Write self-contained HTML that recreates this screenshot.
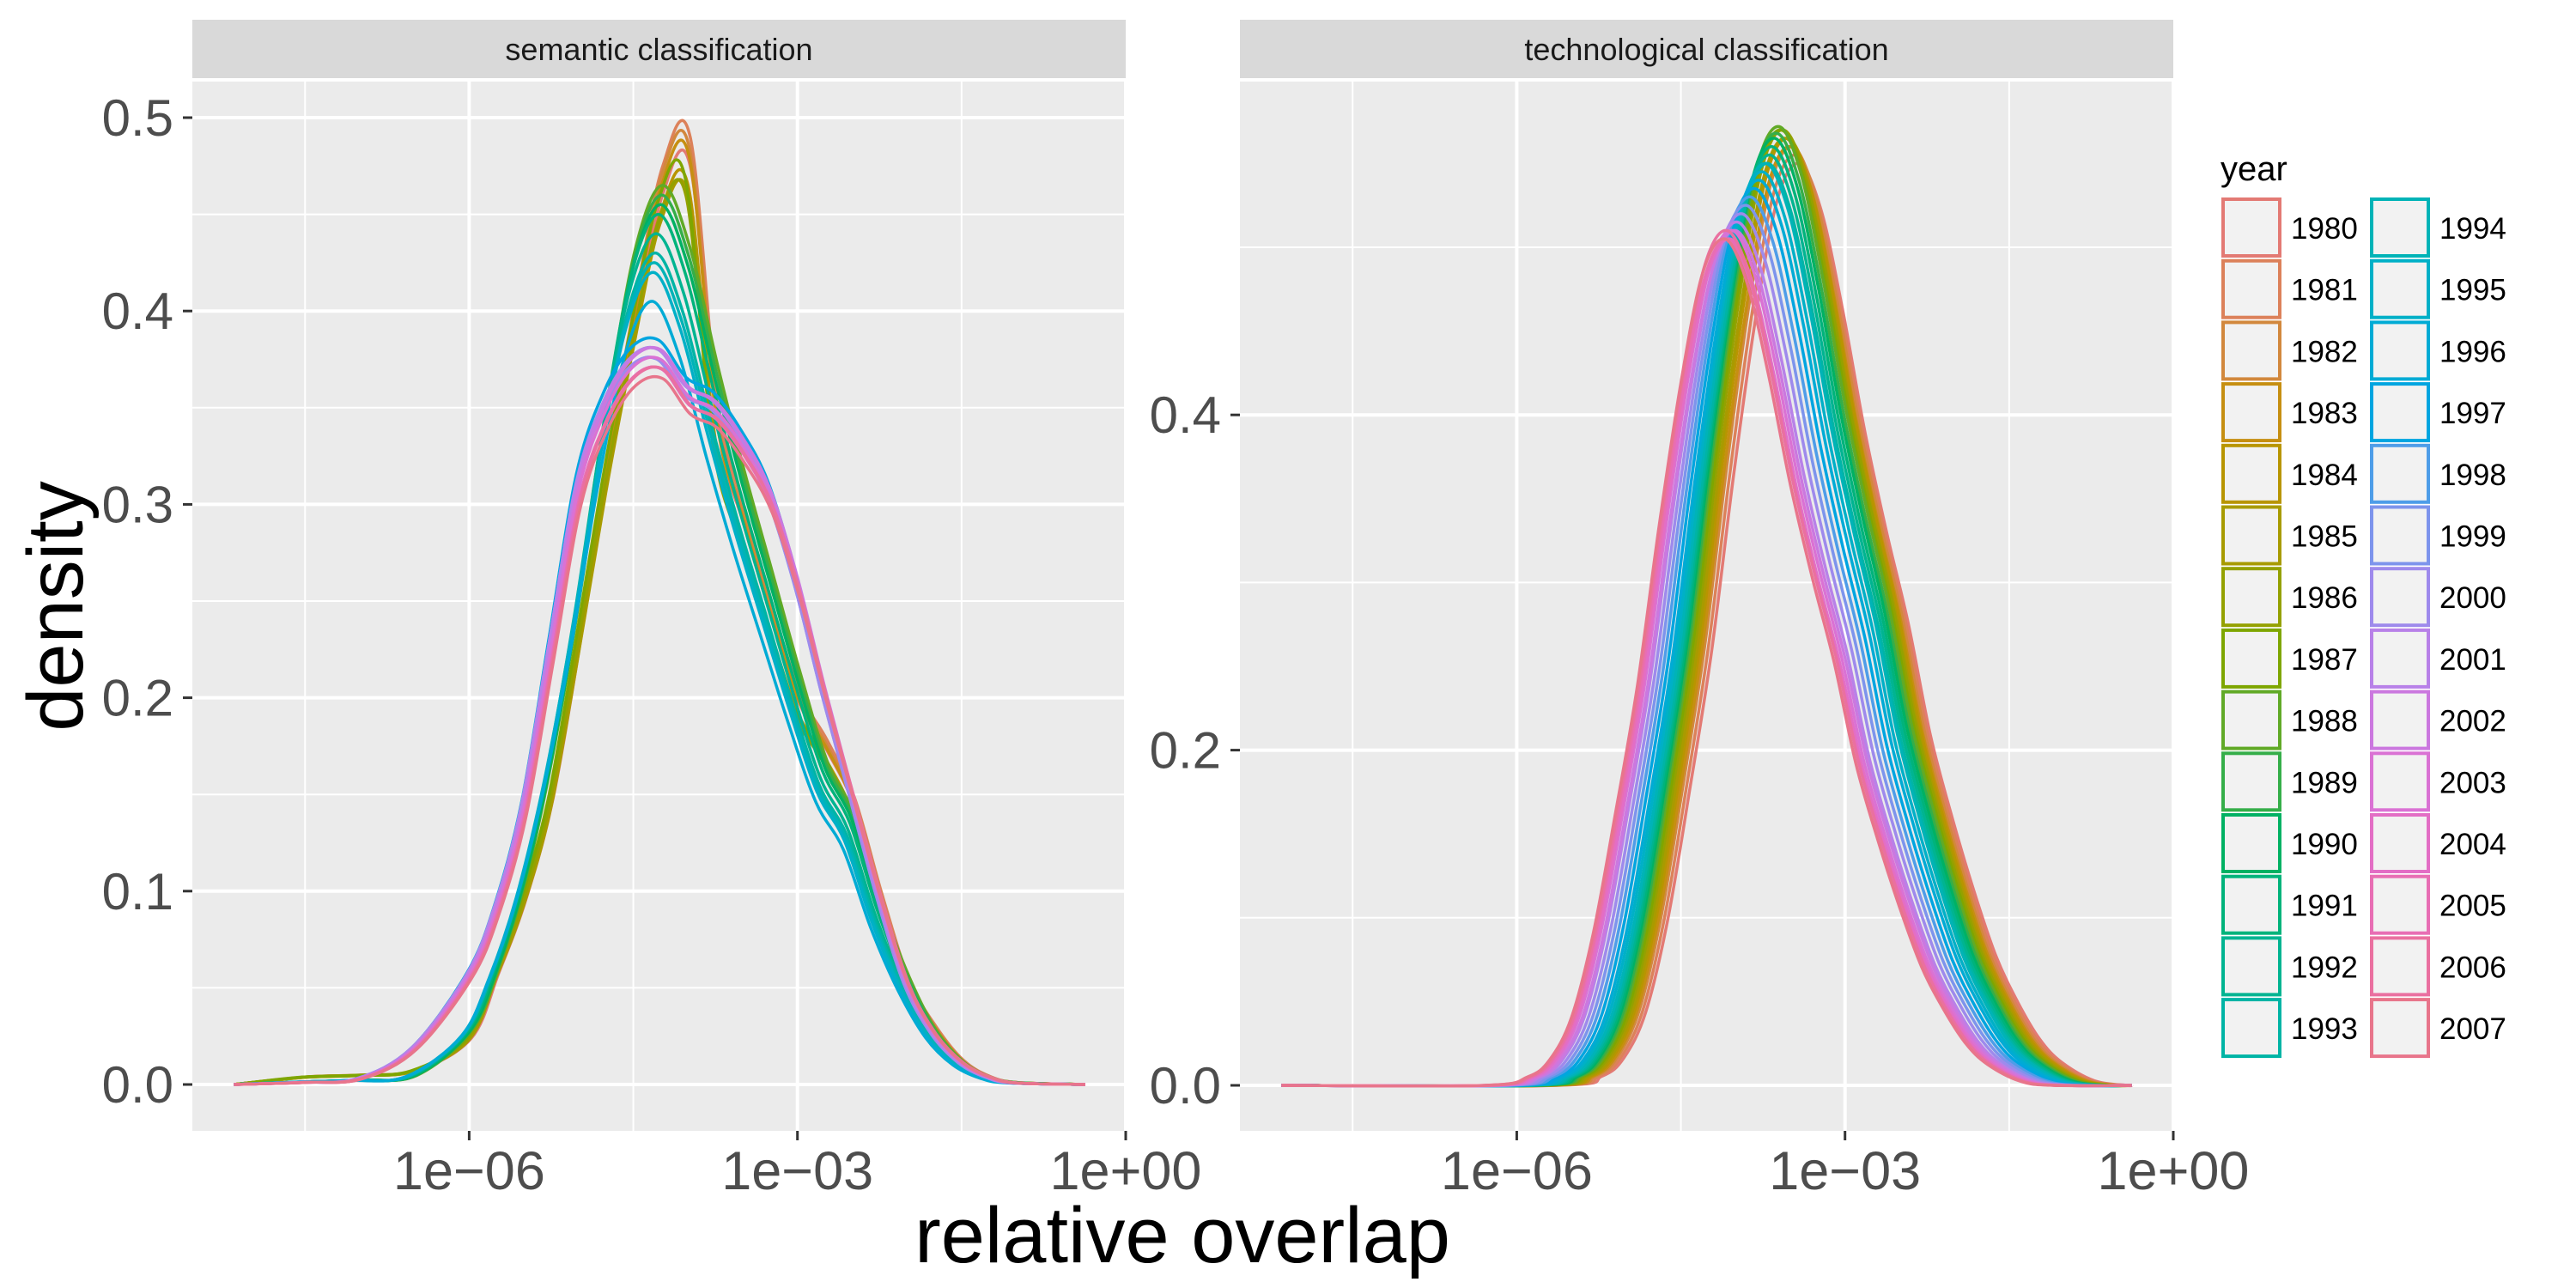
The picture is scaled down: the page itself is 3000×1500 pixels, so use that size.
<!DOCTYPE html>
<html><head><meta charset="utf-8">
<style>
html,body{margin:0;padding:0;background:#fff;}
svg{display:block;font-family:"Liberation Sans",Arial,sans-serif;}
</style></head>
<body>
<svg id="chart" width="3000" height="1500" viewBox="0 0 3000 1500" xmlns="http://www.w3.org/2000/svg">
<rect x="0" y="0" width="3000" height="1500" fill="#ffffff"/>
</svg>
<script>
// ---------------- data ----------------
const years = [1980,1981,1982,1983,1984,1985,1986,1987,1988,1989,1990,1991,1992,1993,1994,1995,1996,1997,1998,1999,2000,2001,2002,2003,2004,2005,2006,2007];
const xTickLabels = ["1e\u221206","1e\u221203","1e+00"];
const xTickLogs = [-6,-3,0];
const semYTicks = [0,0.1,0.2,0.3,0.4,0.5];
const semYTickLabels = ["0.0","0.1","0.2","0.3","0.4","0.5"];
const techYTicks = [0,0.2,0.4];
const techYTickLabels = ["0.0","0.2","0.4"];
// semantic templates (log10 grid, normalized density)
const semGrid = [-8.15,-7.5,-7,-6.5,-6,-5.75,-5.5,-5.25,-5,-4.75,-4.5,-4.25,-4,-3.75,-3.5,-3.25,-3,-2.75,-2.5,-2.25,-2,-1.75,-1.5,-1.25,-1,-0.37];
const semTmplA = [0,0.008,0.01,0.015,0.05,0.12,0.2,0.31,0.48,0.66,0.82,0.96,0.99,0.71,0.6,0.5,0.41,0.36,0.3,0.2,0.11,0.06,0.025,0.008,0.002,0];
const semTmplB = [0,0.003,0.005,0.01,0.06,0.13,0.23,0.37,0.55,0.76,0.93,1.0,0.93,0.8,0.68,0.57,0.46,0.36,0.3,0.2,0.12,0.06,0.025,0.008,0.002,0];
const semTmplC = [0,0.003,0.008,0.05,0.15,0.24,0.38,0.6,0.82,0.93,0.99,1.0,0.95,0.93,0.88,0.81,0.69,0.54,0.4,0.26,0.14,0.07,0.03,0.01,0.002,0];
const semTmplIndex = [0,0,0,0,0,0,0,0,1,1,1,1,1,1,1,1,1,2,2,2,2,2,2,2,2,2,2,2];
const semPeak = [0.475,0.49,0.485,0.48,0.465,0.46,0.46,0.47,0.465,0.46,0.455,0.45,0.44,0.43,0.425,0.42,0.405,0.385,0.38,0.375,0.375,0.38,0.38,0.375,0.37,0.37,0.37,0.365];
const semShift = [0.02,0.02,0.01,0.01,0,0,-0.02,-0.03,0.02,0.01,0,-0.02,-0.04,-0.05,-0.06,-0.07,-0.08,-0.02,-0.02,-0.03,-0.03,-0.02,0,0,0.01,0.01,0.02,0.02];
// technological template (offset from peak, normalized density)
const techOffsets = [-2.2,-1.8,-1.6,-1.4,-1.2,-1.0,-0.8,-0.6,-0.4,-0.2,0,0.2,0.4,0.6,0.8,1.0,1.2,1.4,1.6,1.8,2.0,2.2,2.4,2.7,3.0];
const techTmpl = [0,0.01,0.03,0.08,0.18,0.32,0.47,0.66,0.83,0.96,1.0,0.95,0.84,0.71,0.6,0.5,0.38,0.29,0.21,0.14,0.09,0.05,0.025,0.005,0];
const techPeak = [0.55,0.555,0.56,0.56,0.565,0.565,0.57,0.57,0.572,0.568,0.565,0.56,0.555,0.55,0.55,0.545,0.54,0.535,0.53,0.525,0.52,0.515,0.51,0.51,0.505,0.505,0.51,0.505];
const techCenter = [-3.42,-3.45,-3.48,-3.5,-3.52,-3.54,-3.56,-3.58,-3.6,-3.62,-3.64,-3.66,-3.68,-3.7,-3.72,-3.75,-3.78,-3.82,-3.86,-3.9,-3.94,-3.98,-4.0,-4.03,-4.05,-4.07,-4.08,-4.1];
const lineStart = -8.15, lineEnd = -0.38;

// ---------------- helpers ----------------
const NS = "http://www.w3.org/2000/svg";
const svg = document.getElementById("chart");
function mk(tag, attrs, parent) {
  const e = document.createElementNS(NS, tag);
  for (const k in attrs) e.setAttribute(k, attrs[k]);
  (parent || svg).appendChild(e);
  return e;
}
function hcl(h) {
  const L = 63, C = 78, hr = h * Math.PI / 180;
  const u = C * Math.cos(hr), v = C * Math.sin(hr);
  const Xn = 95.047, Yn = 100, Zn = 108.883;
  const un = 4 * Xn / (Xn + 15 * Yn + 3 * Zn), vn = 9 * Yn / (Xn + 15 * Yn + 3 * Zn);
  const Y = Yn * Math.pow((L + 16) / 116, 3);
  const up = u / (13 * L) + un, vp = v / (13 * L) + vn;
  const X = 9 * Y * up / (4 * vp);
  const Z = -X / 3 - 5 * Y + 3 * Y / vp;
  const x = X / 100, y = Y / 100, z = Z / 100;
  let r = 3.2404542 * x - 1.5371385 * y - 0.4985314 * z;
  let g = -0.9692660 * x + 1.8760108 * y + 0.0415560 * z;
  let b = 0.0556434 * x - 0.2040259 * y + 1.0572252 * z;
  const gam = c => { c = c <= 0.0031308 ? 12.92 * c : 1.055 * Math.pow(c, 1 / 2.4) - 0.055; return Math.round(Math.max(0, Math.min(1, c)) * 255); };
  return "rgb(" + gam(r) + "," + gam(g) + "," + gam(b) + ")";
}
const colors = years.map((y, i) => hcl(15 + i * 360 / 28));
function smoothPath(pts) {
  let d = "M" + pts[0][0].toFixed(1) + "," + pts[0][1].toFixed(1);
  for (let i = 0; i < pts.length - 1; i++) {
    const p0 = pts[Math.max(0, i - 1)], p1 = pts[i], p2 = pts[i + 1], p3 = pts[Math.min(pts.length - 1, i + 2)];
    const c1x = p1[0] + (p2[0] - p0[0]) / 6, c1y = p1[1] + (p2[1] - p0[1]) / 6;
    const c2x = p2[0] - (p3[0] - p1[0]) / 6, c2y = p2[1] - (p3[1] - p1[1]) / 6;
    d += " C" + c1x.toFixed(1) + "," + c1y.toFixed(1) + " " + c2x.toFixed(1) + "," + c2y.toFixed(1) + " " + p2[0].toFixed(1) + "," + p2[1].toFixed(1);
  }
  return d;
}

// ---------------- panels ----------------
const panelTop = 95, panelBottom = 1317;
const xMinLog = -8.53, xMaxLog = 0;
function makeX(left, right) { return L => left + (L - xMinLog) / (xMaxLog - xMinLog) * (right - left); }
const panels = [
  {key:"semantic", title:"semantic classification", left:224, right:1311, y0:1263, perUnit:2252, ticks:semYTicks, labels:semYTickLabels, minor:[0.05,0.15,0.25,0.35,0.45]},
  {key:"technological", title:"technological classification", left:1444, right:2531, y0:1264, perUnit:1952, ticks:techYTicks, labels:techYTickLabels, minor:[0.1,0.3,0.5]}
];
panels.forEach(p => {
  p.x = makeX(p.left, p.right);
  p.y = v => p.y0 - v * p.perUnit;
  const g = mk("g", {});
  
  
  const bg = mk("rect", {x:p.left, y:panelTop, width:p.right - p.left, height:panelBottom - panelTop, fill:"#ebebeb"}, g);
  
  
  const strip = mk("rect", {x:p.left, y:23, width:p.right - p.left, height:68, fill:"#d9d9d9"}, g);
  
  
  const st = mk("text", {x:(p.left + p.right) / 2, y:70, "font-size":36, fill:"#1a1a1a", "text-anchor":"middle"}, g);
  st.textContent = p.title;
  
  
  const grid = mk("g", {}, g);
  
  
  p.minor.forEach(v => {
    const yy = p.y(v);
    if (yy > panelTop) mk("line", {x1:p.left, x2:p.right, y1:yy, y2:yy, stroke:"#fff", "stroke-width":2}, grid);
  });
  [-7.5, -4.5, -1.5].forEach(L => mk("line", {x1:p.x(L), x2:p.x(L), y1:panelTop, y2:panelBottom, stroke:"#fff", "stroke-width":2}, grid));
  p.ticks.forEach(v => mk("line", {x1:p.left, x2:p.right, y1:p.y(v), y2:p.y(v), stroke:"#fff", "stroke-width":4}, grid));
  xTickLogs.forEach(L => mk("line", {x1:p.x(L), x2:p.x(L), y1:panelTop, y2:panelBottom, stroke:"#fff", "stroke-width":4}, grid));
  p.ticks.forEach((v, i) => {
    mk("line", {x1:p.left - 11, x2:p.left, y1:p.y(v), y2:p.y(v), stroke:"#333", "stroke-width":3}, g);
    const t = mk("text", {x:p.left - 22, y:p.y(v) + 21, "font-size":60, fill:"#4d4d4d", "text-anchor":"end"}, g);
    t.textContent = p.labels[i];
    
    
  });
  xTickLogs.forEach((L, i) => {
    mk("line", {x1:p.x(L), x2:p.x(L), y1:panelBottom, y2:panelBottom + 11, stroke:"#333", "stroke-width":3}, g);
    const t = mk("text", {x:p.x(L), y:1385, "font-size":63, fill:"#4d4d4d", "text-anchor":"middle"}, g);
    t.textContent = xTickLabels[i];
    
    
  });
  const clip = mk("clipPath", {id:"clip-" + p.key}, g);
  mk("rect", {x:p.left, y:panelTop, width:p.right - p.left, height:panelBottom - panelTop}, clip);
  p.lines = mk("g", {"clip-path":"url(#clip-" + p.key + ")"}, g);
  
  
});

// semantic curves
const semTemplates = [semTmplA, semTmplB, semTmplC];
const sp = panels[0];
years.forEach((yr, i) => {
  const tm = semTemplates[semTmplIndex[i]];
  const mx = Math.max.apply(null, tm);
  const pts = semGrid.map((L, j) => [sp.x(L + (j > 0 && j < semGrid.length - 1 ? semShift[i] : 0)), sp.y(tm[j] / mx * semPeak[i])]);
  const path = mk("path", {d:smoothPath(pts), fill:"none", stroke:colors[i], "stroke-width":3.5, "stroke-linejoin":"round"}, sp.lines);
  
  
});
// technological curves
const tp = panels[1];
years.forEach((yr, i) => {
  const pts = [[tp.x(lineStart), tp.y(0)]];
  techOffsets.forEach((o, j) => pts.push([tp.x(techCenter[i] + o), tp.y(techTmpl[j] * techPeak[i])]));
  pts.push([tp.x(lineEnd), tp.y(0)]);
  const path = mk("path", {d:smoothPath(pts), fill:"none", stroke:colors[i], "stroke-width":3.5, "stroke-linejoin":"round"}, tp.lines);
  
  
});

// axis titles
const xt = mk("text", {x:1377, y:1470, "font-size":92, fill:"#000", "text-anchor":"middle"});
xt.textContent = "relative overlap";


const yt = mk("text", {x:0, y:0, "font-size":92, fill:"#000", "text-anchor":"middle", transform:"translate(96,706) rotate(-90)"});
yt.textContent = "density";



// legend
const lg = mk("g", {});


const ltitle = mk("text", {x:2586, y:210, "font-size":40, fill:"#000"}, lg);
ltitle.textContent = "year";


years.forEach((yr, i) => {
  const col = Math.floor(i / 14), row = i % 14;
  const bx = 2589 + col * 173, by = 232 + row * 71.7;
  const e = mk("g", {}, lg);
  
  
  mk("rect", {x:bx, y:by, width:66, height:66, fill:"#f2f2f2", stroke:colors[i], "stroke-width":4}, e);
  const t = mk("text", {x:bx + 79, y:by + 46, "font-size":35, fill:"#000"}, e);
  t.textContent = yr;
});
</script>
</body></html>
